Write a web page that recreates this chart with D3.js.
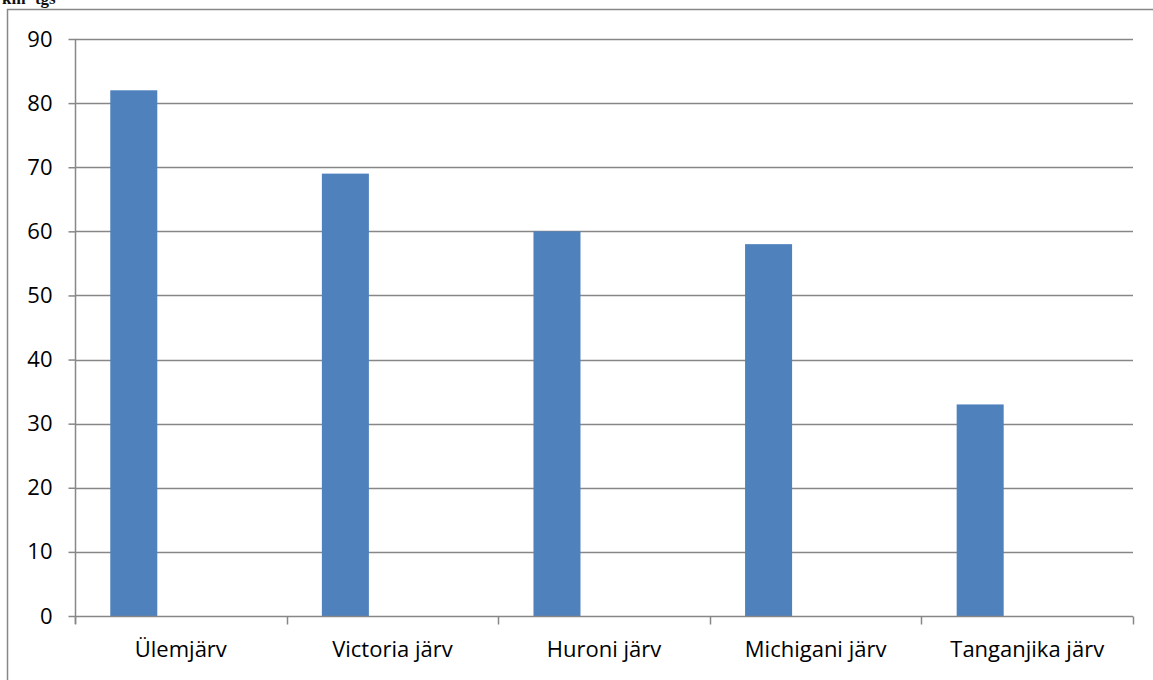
<!DOCTYPE html>
<html>
<head>
<meta charset="utf-8">
<script src="https://cdn.jsdelivr.net/npm/d3@7"></script>
<style>
  body { margin: 0; background: #fff; }
  svg { display: block; }
</style>
</head>
<body>
<div class="canvas"></div>
<script>
// data
const lakes = ['Ülemjärv', 'Victoria järv', 'Huroni järv', 'Michigani järv', 'Tanganjika järv'];
const areas = [82, 69, 60, 58, 33];
const seriesSlots = ['s1', 's2', 's3'];
const yTicks = [0, 10, 20, 30, 40, 50, 60, 70, 80, 90];

const width = 1153, height = 680;

const svg = d3.select('.canvas')
    .append('svg')
    .attr('width', width)
    .attr('height', height);

// cut-off title at the very top (only its lower part shows in the source)
svg.append('text')
    .attr('x', 2)
    .attr('y', 4)
    .attr('font-family', 'Liberation Serif')
    .attr('font-weight', 'bold')
    .attr('font-size', 17)
    .attr('fill', '#111')
    .text('km² tgs');

// outer frame
svg.append('rect')
    .attr('x', 7.5)
    .attr('y', 9.5)
    .attr('width', width + 10)
    .attr('height', height + 10)
    .attr('fill', 'none')
    .attr('stroke', '#888')
    .attr('stroke-width', 1.5);

// plot area
const plotLeft = 75, plotRight = 1133, plotTop = 39, plotBottom = 616;

const x = d3.scaleBand()
    .domain(lakes)
    .range([plotLeft, plotRight])
    .padding(0);

// three series slots per category, only the first one has values
const xs = d3.scaleBand()
    .domain(seriesSlots)
    .range([0, x.bandwidth()])
    .paddingInner(0)
    .paddingOuter(0.75);

const y = d3.scaleLinear()
    .domain([0, 90])
    .range([plotBottom, plotTop]);

// gridlines
svg.append('g')
    .selectAll('line')
    .data(yTicks.slice(1))
    .enter()
    .append('line')
    .attr('x1', plotLeft)
    .attr('x2', plotRight)
    .attr('y1', d => Math.round(y(d)) + 0.5)
    .attr('y2', d => Math.round(y(d)) + 0.5)
    .attr('stroke', '#878787')
    .attr('stroke-width', 1.5);

// bars
svg.append('g')
    .selectAll('rect')
    .data(lakes)
    .enter()
    .append('rect')
    .attr('x', d => x(d) + xs('s1'))
    .attr('y', (d, i) => y(areas[i]))
    .attr('width', xs.bandwidth())
    .attr('height', (d, i) => y(0) - y(areas[i]))
    .attr('fill', '#4f81bd');

// axes
const yAxis = d3.axisLeft(y)
    .tickValues(yTicks)
    .tickSize(7)
    .tickPadding(16);

const xAxis = d3.axisBottom(x)
    .tickSize(0)
    .tickPadding(25);

const yAxisGroup = svg.append('g')
    .attr('transform', `translate(${plotLeft + 0.5},0)`)
    .call(yAxis);

const xAxisGroup = svg.append('g')
    .attr('transform', `translate(0,${Math.round(plotBottom) + 0.5})`)
    .call(xAxis);

// category boundary ticks
xAxisGroup.selectAll('.bound')
    .data(lakes.concat(['end']))
    .enter()
    .append('line')
    .attr('class', 'bound')
    .attr('x1', (d, i) => Math.round(i < lakes.length ? x(d) : plotRight) + 0.5)
    .attr('x2', (d, i) => Math.round(i < lakes.length ? x(d) : plotRight) + 0.5)
    .attr('y1', 0)
    .attr('y2', 8)
    .attr('stroke', '#878787')
    .attr('stroke-width', 1.5);

[xAxisGroup, yAxisGroup].forEach(g => {
    g.select('.domain').attr('stroke', '#878787').attr('stroke-width', 1.5);
    g.selectAll('.tick line').attr('stroke', '#878787').attr('stroke-width', 1.5);
    g.selectAll('text')
        .attr('font-family', 'Open Sans, Liberation Sans, sans-serif')
        .attr('font-size', 22)
        .attr('fill', '#000');
});

// keep the domains flat, without d3's end caps
xAxisGroup.select('.domain').attr('d', `M${plotLeft},0H${plotRight}`);
yAxisGroup.select('.domain').attr('d', `M0,${plotTop}V${plotBottom + 8}`);
</script>
</body>
</html>
